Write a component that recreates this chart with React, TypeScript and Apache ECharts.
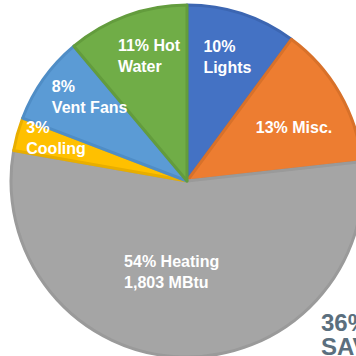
import React, { useEffect, useRef } from "react";
import * as echarts from "echarts";

const categories = ["Lights", "Misc.", "Heating", "Cooling", "Vent Fans", "Hot Water"];
const percentValues = [10, 13, 54, 3, 8, 11];
const labelTexts = [
  "10%\nLights",
  "13% Misc.",
  "54% Heating\n1,803 MBtu",
  "3%\nCooling",
  "8%\nVent Fans",
  "11% Hot\nWater",
];
const fillColors = ["#4472C4", "#ED7D31", "#A5A5A5", "#FFC000", "#5B9BD5", "#70AD47"];
const edgeColors = ["#3C66B2", "#D8712A", "#9A9A9A", "#E8AE00", "#4F8DC6", "#639C3D"];
// label nudges (style) relative to ECharts' inside label anchor
const labelNudges: [number, number][] = [
  [-12, -38],
  [-10, -8],
  [-60, 0],
  [-73, -19],
  [-61, -31],
  [-38, -39],
];
const savingsText = "36%\nSAVINGS";

export default function App() {
  const ref = useRef<HTMLDivElement>(null);
  useEffect(() => {
    if (!ref.current) return;
    const chart = echarts.init(ref.current, undefined, { renderer: "svg" });
    const data = categories.map((name, i) => ({
      name,
      value: percentValues[i],
      itemStyle: { color: fillColors[i], borderColor: edgeColors[i], borderWidth: 3 },
      label: { formatter: labelTexts[i] },
    }));
    chart.setOption({
      animation: false,
      backgroundColor: "#ffffff",
      series: [
        {
          type: "pie",
          center: [187, 181],
          radius: [0, 176],
          startAngle: 90,
          clockwise: true,
          avoidLabelOverlap: false,
          silent: true,
          label: {
            show: true,
            position: "inside",
            color: "#ffffff",
            fontFamily: "'Liberation Sans', Arial, sans-serif",
            fontWeight: "bold",
            fontSize: 16,
            lineHeight: 21,
          },
          labelLine: { show: false },
          labelLayout: (params: any) => {
            const n = labelNudges[params.dataIndex] || [0, 0];
            return { dx: n[0], dy: n[1], align: "left", verticalAlign: "middle" };
          },
          data,
        },
      ],
      graphic: [
        {
          type: "text",
          x: 321,
          y: 310,
          style: {
            text: savingsText,
            fill: "#5B6F7E",
            font: "bold 24px 'Liberation Sans', Arial, sans-serif",
            lineHeight: 24,
            textAlign: "left",
            textVerticalAlign: "top",
          },
        },
      ],
    });
    return () => chart.dispose();
  }, []);
  return (
    <div
      ref={ref}
      style={{ position: "absolute", left: 0, top: 0, width: 356, height: 356 }}
    />
  );
}
